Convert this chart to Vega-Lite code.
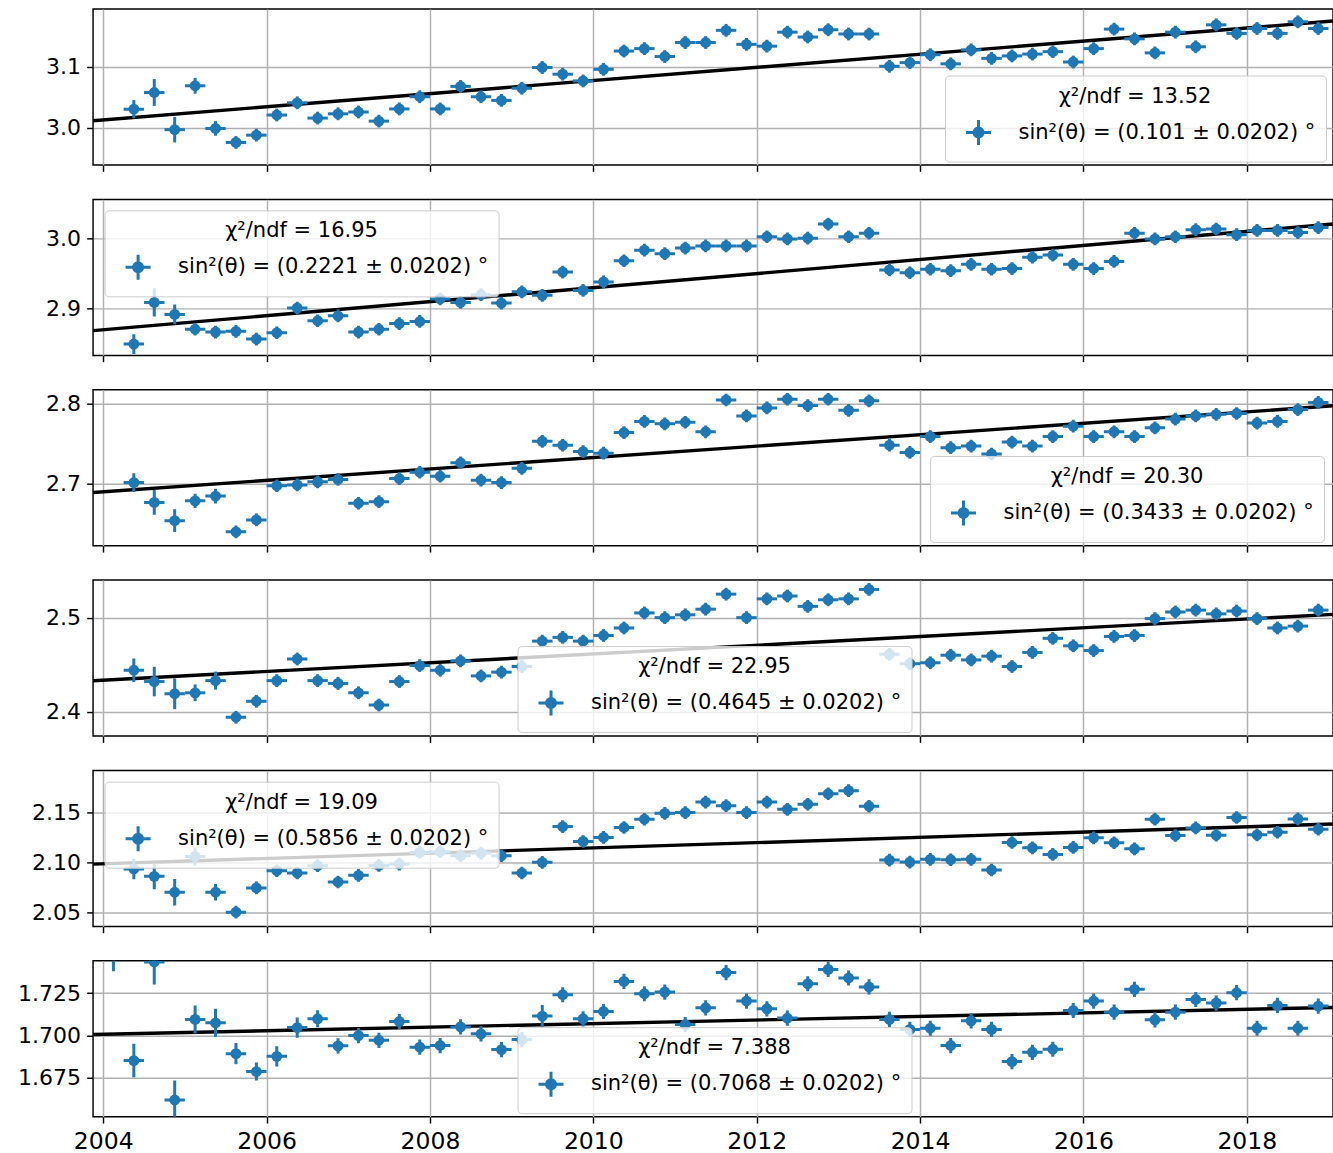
{
"$schema": "https://vega.github.io/schema/vega-lite/v6.json",
"background": "white",
"padding": {"left": 16, "top": 8, "right": 0, "bottom": 4},
"spacing": 34.35,
"bounds": "flush",
"resolve": {"scale": {"color": "independent", "y": "independent", "x": "independent"}, "legend": {"color": "independent"}},
"datasets": {
"fit": [
{"p":1,"x":2003.875,"y":3.0116},{"p":1,"x":2019.055,"y":3.1752},
{"p":2,"x":2003.875,"y":2.8690},{"p":2,"x":2019.055,"y":3.0201},
{"p":3,"x":2003.875,"y":2.6885},{"p":3,"x":2019.055,"y":2.7977},
{"p":4,"x":2003.875,"y":2.4328},{"p":4,"x":2019.055,"y":2.5035},
{"p":5,"x":2003.875,"y":2.0983},{"p":5,"x":2019.055,"y":2.1382},
{"p":6,"x":2003.875,"y":1.7006},{"p":6,"x":2019.055,"y":1.7166}
],
"pts": [
{"p":1,"x":2004.375,"y":3.0306,"e":0.015},{"p":1,"x":2004.625,"y":3.058,"e":0.022},{"p":1,"x":2004.875,"y":2.997,"e":0.021},{"p":1,"x":2005.125,"y":3.069,"e":0.013},{"p":1,"x":2005.375,"y":2.999,"e":0.012},{"p":1,"x":2005.625,"y":2.976,"e":0.0105},{"p":1,"x":2005.875,"y":2.988,"e":0.0105},{"p":1,"x":2006.125,"y":3.021,"e":0.0105},{"p":1,"x":2006.375,"y":3.041,"e":0.0105},{"p":1,"x":2006.625,"y":3.016,"e":0.0105},
{"p":1,"x":2006.875,"y":3.023,"e":0.0105},{"p":1,"x":2007.125,"y":3.026,"e":0.0105},{"p":1,"x":2007.375,"y":3.011,"e":0.0105},{"p":1,"x":2007.625,"y":3.031,"e":0.0105},{"p":1,"x":2007.875,"y":3.051,"e":0.0105},{"p":1,"x":2008.125,"y":3.031,"e":0.0105},{"p":1,"x":2008.375,"y":3.068,"e":0.0105},{"p":1,"x":2008.625,"y":3.051,"e":0.0105},{"p":1,"x":2008.875,"y":3.045,"e":0.0105},{"p":1,"x":2009.125,"y":3.065,"e":0.0105},
{"p":1,"x":2009.375,"y":3.099,"e":0.0105},{"p":1,"x":2009.625,"y":3.088,"e":0.0105},{"p":1,"x":2009.875,"y":3.077,"e":0.0105},{"p":1,"x":2010.125,"y":3.096,"e":0.0105},{"p":1,"x":2010.375,"y":3.126,"e":0.0105},{"p":1,"x":2010.625,"y":3.130,"e":0.0105},{"p":1,"x":2010.875,"y":3.117,"e":0.0105},{"p":1,"x":2011.125,"y":3.140,"e":0.0105},{"p":1,"x":2011.375,"y":3.140,"e":0.0105},{"p":1,"x":2011.625,"y":3.160,"e":0.0105},
{"p":1,"x":2011.875,"y":3.137,"e":0.0105},{"p":1,"x":2012.125,"y":3.134,"e":0.0105},{"p":1,"x":2012.375,"y":3.157,"e":0.0105},{"p":1,"x":2012.625,"y":3.149,"e":0.0105},{"p":1,"x":2012.875,"y":3.161,"e":0.0105},{"p":1,"x":2013.125,"y":3.154,"e":0.0105},{"p":1,"x":2013.375,"y":3.154,"e":0.0105},{"p":1,"x":2013.625,"y":3.101,"e":0.0105},{"p":1,"x":2013.875,"y":3.107,"e":0.0105},{"p":1,"x":2014.125,"y":3.120,"e":0.0105},
{"p":1,"x":2014.375,"y":3.105,"e":0.0105},{"p":1,"x":2014.625,"y":3.128,"e":0.0105},{"p":1,"x":2014.875,"y":3.114,"e":0.0105},{"p":1,"x":2015.125,"y":3.118,"e":0.0105},{"p":1,"x":2015.375,"y":3.121,"e":0.0105},{"p":1,"x":2015.625,"y":3.125,"e":0.0105},{"p":1,"x":2015.875,"y":3.108,"e":0.0105},{"p":1,"x":2016.125,"y":3.130,"e":0.0105},{"p":1,"x":2016.375,"y":3.162,"e":0.0105},{"p":1,"x":2016.625,"y":3.146,"e":0.0105},
{"p":1,"x":2016.875,"y":3.123,"e":0.0105},{"p":1,"x":2017.125,"y":3.157,"e":0.0105},{"p":1,"x":2017.375,"y":3.133,"e":0.0105},{"p":1,"x":2017.625,"y":3.169,"e":0.0105},{"p":1,"x":2017.875,"y":3.155,"e":0.0105},{"p":1,"x":2018.125,"y":3.163,"e":0.0105},{"p":1,"x":2018.375,"y":3.155,"e":0.0105},{"p":1,"x":2018.625,"y":3.174,"e":0.0105},{"p":1,"x":2018.875,"y":3.163,"e":0.0105},

{"p":2,"x":2004.375,"y":2.850,"e":0.014},{"p":2,"x":2004.625,"y":2.909,"e":0.020},{"p":2,"x":2004.875,"y":2.892,"e":0.014},{"p":2,"x":2005.125,"y":2.871,"e":0.009},{"p":2,"x":2005.375,"y":2.867,"e":0.009},{"p":2,"x":2005.625,"y":2.868,"e":0.009},{"p":2,"x":2005.875,"y":2.857,"e":0.009},{"p":2,"x":2006.125,"y":2.866,"e":0.009},{"p":2,"x":2006.375,"y":2.901,"e":0.009},{"p":2,"x":2006.625,"y":2.883,"e":0.009},
{"p":2,"x":2006.875,"y":2.890,"e":0.009},{"p":2,"x":2007.125,"y":2.867,"e":0.009},{"p":2,"x":2007.375,"y":2.871,"e":0.009},{"p":2,"x":2007.625,"y":2.879,"e":0.009},{"p":2,"x":2007.875,"y":2.882,"e":0.009},{"p":2,"x":2008.125,"y":2.914,"e":0.009},{"p":2,"x":2008.375,"y":2.909,"e":0.009},{"p":2,"x":2008.625,"y":2.920,"e":0.009},{"p":2,"x":2008.875,"y":2.908,"e":0.009},{"p":2,"x":2009.125,"y":2.924,"e":0.009},
{"p":2,"x":2009.375,"y":2.919,"e":0.009},{"p":2,"x":2009.625,"y":2.952,"e":0.009},{"p":2,"x":2009.875,"y":2.926,"e":0.009},{"p":2,"x":2010.125,"y":2.938,"e":0.009},{"p":2,"x":2010.375,"y":2.968,"e":0.009},{"p":2,"x":2010.625,"y":2.983,"e":0.009},{"p":2,"x":2010.875,"y":2.978,"e":0.009},{"p":2,"x":2011.125,"y":2.986,"e":0.009},{"p":2,"x":2011.375,"y":2.989,"e":0.009},{"p":2,"x":2011.625,"y":2.989,"e":0.009},
{"p":2,"x":2011.875,"y":2.989,"e":0.009},{"p":2,"x":2012.125,"y":3.002,"e":0.009},{"p":2,"x":2012.375,"y":2.999,"e":0.009},{"p":2,"x":2012.625,"y":3.000,"e":0.009},{"p":2,"x":2012.875,"y":3.020,"e":0.009},{"p":2,"x":2013.125,"y":3.002,"e":0.009},{"p":2,"x":2013.375,"y":3.007,"e":0.009},{"p":2,"x":2013.625,"y":2.955,"e":0.009},{"p":2,"x":2013.875,"y":2.951,"e":0.009},{"p":2,"x":2014.125,"y":2.956,"e":0.009},
{"p":2,"x":2014.375,"y":2.954,"e":0.009},{"p":2,"x":2014.625,"y":2.963,"e":0.009},{"p":2,"x":2014.875,"y":2.956,"e":0.009},{"p":2,"x":2015.125,"y":2.957,"e":0.009},{"p":2,"x":2015.375,"y":2.973,"e":0.009},{"p":2,"x":2015.625,"y":2.976,"e":0.009},{"p":2,"x":2015.875,"y":2.963,"e":0.009},{"p":2,"x":2016.125,"y":2.957,"e":0.009},{"p":2,"x":2016.375,"y":2.967,"e":0.009},{"p":2,"x":2016.625,"y":3.007,"e":0.009},
{"p":2,"x":2016.875,"y":2.999,"e":0.009},{"p":2,"x":2017.125,"y":3.002,"e":0.009},{"p":2,"x":2017.375,"y":3.012,"e":0.009},{"p":2,"x":2017.625,"y":3.013,"e":0.009},{"p":2,"x":2017.875,"y":3.005,"e":0.009},{"p":2,"x":2018.125,"y":3.011,"e":0.009},{"p":2,"x":2018.375,"y":3.011,"e":0.009},{"p":2,"x":2018.625,"y":3.008,"e":0.009},{"p":2,"x":2018.875,"y":3.015,"e":0.009},

{"p":3,"x":2004.375,"y":2.701,"e":0.0118},{"p":3,"x":2004.625,"y":2.676,"e":0.0156},{"p":3,"x":2004.875,"y":2.653,"e":0.0143},{"p":3,"x":2005.125,"y":2.678,"e":0.0089},{"p":3,"x":2005.375,"y":2.684,"e":0.0093},{"p":3,"x":2005.625,"y":2.639,"e":0.008},{"p":3,"x":2005.875,"y":2.654,"e":0.008},{"p":3,"x":2006.125,"y":2.697,"e":0.008},{"p":3,"x":2006.375,"y":2.698,"e":0.008},{"p":3,"x":2006.625,"y":2.702,"e":0.008},
{"p":3,"x":2006.875,"y":2.705,"e":0.008},{"p":3,"x":2007.125,"y":2.675,"e":0.008},{"p":3,"x":2007.375,"y":2.677,"e":0.008},{"p":3,"x":2007.625,"y":2.706,"e":0.008},{"p":3,"x":2007.875,"y":2.714,"e":0.008},{"p":3,"x":2008.125,"y":2.709,"e":0.008},{"p":3,"x":2008.375,"y":2.726,"e":0.008},{"p":3,"x":2008.625,"y":2.704,"e":0.008},{"p":3,"x":2008.875,"y":2.701,"e":0.008},{"p":3,"x":2009.125,"y":2.719,"e":0.008},
{"p":3,"x":2009.375,"y":2.753,"e":0.008},{"p":3,"x":2009.625,"y":2.748,"e":0.008},{"p":3,"x":2009.875,"y":2.740,"e":0.008},{"p":3,"x":2010.125,"y":2.738,"e":0.008},{"p":3,"x":2010.375,"y":2.764,"e":0.008},{"p":3,"x":2010.625,"y":2.778,"e":0.008},{"p":3,"x":2010.875,"y":2.775,"e":0.008},{"p":3,"x":2011.125,"y":2.777,"e":0.008},{"p":3,"x":2011.375,"y":2.765,"e":0.008},{"p":3,"x":2011.625,"y":2.805,"e":0.008},
{"p":3,"x":2011.875,"y":2.785,"e":0.008},{"p":3,"x":2012.125,"y":2.795,"e":0.008},{"p":3,"x":2012.375,"y":2.806,"e":0.008},{"p":3,"x":2012.625,"y":2.798,"e":0.008},{"p":3,"x":2012.875,"y":2.806,"e":0.008},{"p":3,"x":2013.125,"y":2.792,"e":0.008},{"p":3,"x":2013.375,"y":2.804,"e":0.008},{"p":3,"x":2013.625,"y":2.748,"e":0.008},{"p":3,"x":2013.875,"y":2.739,"e":0.008},{"p":3,"x":2014.125,"y":2.759,"e":0.008},
{"p":3,"x":2014.375,"y":2.745,"e":0.008},{"p":3,"x":2014.625,"y":2.747,"e":0.008},{"p":3,"x":2014.875,"y":2.737,"e":0.008},{"p":3,"x":2015.125,"y":2.752,"e":0.008},{"p":3,"x":2015.375,"y":2.747,"e":0.008},{"p":3,"x":2015.625,"y":2.759,"e":0.008},{"p":3,"x":2015.875,"y":2.772,"e":0.008},{"p":3,"x":2016.125,"y":2.759,"e":0.008},{"p":3,"x":2016.375,"y":2.765,"e":0.008},{"p":3,"x":2016.625,"y":2.759,"e":0.008},
{"p":3,"x":2016.875,"y":2.770,"e":0.008},{"p":3,"x":2017.125,"y":2.781,"e":0.008},{"p":3,"x":2017.375,"y":2.785,"e":0.008},{"p":3,"x":2017.625,"y":2.787,"e":0.008},{"p":3,"x":2017.875,"y":2.788,"e":0.008},{"p":3,"x":2018.125,"y":2.776,"e":0.008},{"p":3,"x":2018.375,"y":2.778,"e":0.008},{"p":3,"x":2018.625,"y":2.793,"e":0.008},{"p":3,"x":2018.875,"y":2.802,"e":0.008},

{"p":4,"x":2004.375,"y":2.444,"e":0.0125},{"p":4,"x":2004.625,"y":2.432,"e":0.0157},{"p":4,"x":2004.875,"y":2.419,"e":0.0164},{"p":4,"x":2005.125,"y":2.420,"e":0.0089},{"p":4,"x":2005.375,"y":2.433,"e":0.0096},{"p":4,"x":2005.625,"y":2.394,"e":0.0068},{"p":4,"x":2005.875,"y":2.411,"e":0.0068},{"p":4,"x":2006.125,"y":2.433,"e":0.0068},{"p":4,"x":2006.375,"y":2.456,"e":0.0068},{"p":4,"x":2006.625,"y":2.433,"e":0.0068},
{"p":4,"x":2006.875,"y":2.430,"e":0.0068},{"p":4,"x":2007.125,"y":2.420,"e":0.0068},{"p":4,"x":2007.375,"y":2.407,"e":0.0068},{"p":4,"x":2007.625,"y":2.432,"e":0.0068},{"p":4,"x":2007.875,"y":2.449,"e":0.0068},{"p":4,"x":2008.125,"y":2.444,"e":0.0068},{"p":4,"x":2008.375,"y":2.454,"e":0.0068},{"p":4,"x":2008.625,"y":2.438,"e":0.0068},{"p":4,"x":2008.875,"y":2.442,"e":0.0068},{"p":4,"x":2009.125,"y":2.448,"e":0.0068},
{"p":4,"x":2009.375,"y":2.475,"e":0.0068},{"p":4,"x":2009.625,"y":2.479,"e":0.0068},{"p":4,"x":2009.875,"y":2.475,"e":0.0068},{"p":4,"x":2010.125,"y":2.481,"e":0.0068},{"p":4,"x":2010.375,"y":2.489,"e":0.0068},{"p":4,"x":2010.625,"y":2.505,"e":0.0068},{"p":4,"x":2010.875,"y":2.500,"e":0.0068},{"p":4,"x":2011.125,"y":2.503,"e":0.0068},{"p":4,"x":2011.375,"y":2.509,"e":0.0068},{"p":4,"x":2011.625,"y":2.525,"e":0.0068},
{"p":4,"x":2011.875,"y":2.500,"e":0.0068},{"p":4,"x":2012.125,"y":2.520,"e":0.0068},{"p":4,"x":2012.375,"y":2.523,"e":0.0068},{"p":4,"x":2012.625,"y":2.512,"e":0.0068},{"p":4,"x":2012.875,"y":2.519,"e":0.0068},{"p":4,"x":2013.125,"y":2.520,"e":0.0068},{"p":4,"x":2013.375,"y":2.530,"e":0.0068},{"p":4,"x":2013.625,"y":2.461,"e":0.0068},{"p":4,"x":2013.875,"y":2.451,"e":0.0068},{"p":4,"x":2014.125,"y":2.452,"e":0.0068},
{"p":4,"x":2014.375,"y":2.460,"e":0.0068},{"p":4,"x":2014.625,"y":2.455,"e":0.0068},{"p":4,"x":2014.875,"y":2.459,"e":0.0068},{"p":4,"x":2015.125,"y":2.448,"e":0.0068},{"p":4,"x":2015.375,"y":2.463,"e":0.0068},{"p":4,"x":2015.625,"y":2.478,"e":0.0068},{"p":4,"x":2015.875,"y":2.470,"e":0.0068},{"p":4,"x":2016.125,"y":2.465,"e":0.0068},{"p":4,"x":2016.375,"y":2.480,"e":0.0068},{"p":4,"x":2016.625,"y":2.481,"e":0.0068},
{"p":4,"x":2016.875,"y":2.499,"e":0.0068},{"p":4,"x":2017.125,"y":2.506,"e":0.0068},{"p":4,"x":2017.375,"y":2.508,"e":0.0068},{"p":4,"x":2017.625,"y":2.504,"e":0.0068},{"p":4,"x":2017.875,"y":2.507,"e":0.0068},{"p":4,"x":2018.125,"y":2.499,"e":0.0068},{"p":4,"x":2018.375,"y":2.489,"e":0.0068},{"p":4,"x":2018.625,"y":2.491,"e":0.0068},{"p":4,"x":2018.875,"y":2.508,"e":0.0068},

{"p":5,"x":2004.375,"y":2.0934,"e":0.0102},{"p":5,"x":2004.625,"y":2.0861,"e":0.0129},{"p":5,"x":2004.875,"y":2.0703,"e":0.0132},{"p":5,"x":2005.125,"y":2.1059,"e":0.009},{"p":5,"x":2005.375,"y":2.0703,"e":0.0083},{"p":5,"x":2005.625,"y":2.0505,"e":0.0063},{"p":5,"x":2005.875,"y":2.0746,"e":0.0063},{"p":5,"x":2006.125,"y":2.0917,"e":0.0063},{"p":5,"x":2006.375,"y":2.0894,"e":0.0063},{"p":5,"x":2006.625,"y":2.0967,"e":0.0063},
{"p":5,"x":2006.875,"y":2.0805,"e":0.0063},{"p":5,"x":2007.125,"y":2.0871,"e":0.0063},{"p":5,"x":2007.375,"y":2.0970,"e":0.0063},{"p":5,"x":2007.625,"y":2.0983,"e":0.0063},{"p":5,"x":2007.875,"y":2.1099,"e":0.0063},{"p":5,"x":2008.125,"y":2.1106,"e":0.0063},{"p":5,"x":2008.375,"y":2.1066,"e":0.0063},{"p":5,"x":2008.625,"y":2.1092,"e":0.0063},{"p":5,"x":2008.875,"y":2.1066,"e":0.0063},{"p":5,"x":2009.125,"y":2.0894,"e":0.0063},
{"p":5,"x":2009.375,"y":2.1000,"e":0.0063},{"p":5,"x":2009.625,"y":2.1356,"e":0.0063},{"p":5,"x":2009.875,"y":2.1208,"e":0.0063},{"p":5,"x":2010.125,"y":2.1248,"e":0.0063},{"p":5,"x":2010.375,"y":2.1347,"e":0.0063},{"p":5,"x":2010.625,"y":2.1429,"e":0.0063},{"p":5,"x":2010.875,"y":2.1488,"e":0.0063},{"p":5,"x":2011.125,"y":2.1495,"e":0.0063},{"p":5,"x":2011.375,"y":2.1600,"e":0.0063},{"p":5,"x":2011.625,"y":2.1564,"e":0.0063},
{"p":5,"x":2011.875,"y":2.1495,"e":0.0063},{"p":5,"x":2012.125,"y":2.1600,"e":0.0063},{"p":5,"x":2012.375,"y":2.1528,"e":0.0063},{"p":5,"x":2012.625,"y":2.1578,"e":0.0063},{"p":5,"x":2012.875,"y":2.1683,"e":0.0063},{"p":5,"x":2013.125,"y":2.1713,"e":0.0063},{"p":5,"x":2013.375,"y":2.1558,"e":0.0063},{"p":5,"x":2013.625,"y":2.1023,"e":0.0063},{"p":5,"x":2013.875,"y":2.1003,"e":0.0063},{"p":5,"x":2014.125,"y":2.1030,"e":0.0063},
{"p":5,"x":2014.375,"y":2.1026,"e":0.0063},{"p":5,"x":2014.625,"y":2.1030,"e":0.0063},{"p":5,"x":2014.875,"y":2.0924,"e":0.0063},{"p":5,"x":2015.125,"y":2.1198,"e":0.0063},{"p":5,"x":2015.375,"y":2.1145,"e":0.0063},{"p":5,"x":2015.625,"y":2.1079,"e":0.0063},{"p":5,"x":2015.875,"y":2.1149,"e":0.0063},{"p":5,"x":2016.125,"y":2.1244,"e":0.0063},{"p":5,"x":2016.375,"y":2.1195,"e":0.0063},{"p":5,"x":2016.625,"y":2.1135,"e":0.0063},
{"p":5,"x":2016.875,"y":2.1429,"e":0.0063},{"p":5,"x":2017.125,"y":2.1267,"e":0.0063},{"p":5,"x":2017.375,"y":2.1343,"e":0.0063},{"p":5,"x":2017.625,"y":2.1271,"e":0.0063},{"p":5,"x":2017.875,"y":2.1446,"e":0.0063},{"p":5,"x":2018.125,"y":2.1274,"e":0.0063},{"p":5,"x":2018.375,"y":2.1300,"e":0.0063},{"p":5,"x":2018.625,"y":2.1432,"e":0.0063},{"p":5,"x":2018.875,"y":2.1330,"e":0.0063},

{"p":6,"x":2004.125,"y":1.762,"e":0.024},
{"p":6,"x":2004.375,"y":1.6852,"e":0.0099},{"p":6,"x":2004.625,"y":1.7435,"e":0.0134},{"p":6,"x":2004.875,"y":1.6619,"e":0.0115},{"p":6,"x":2005.125,"y":1.7095,"e":0.0083},{"p":6,"x":2005.375,"y":1.7075,"e":0.0083},{"p":6,"x":2005.625,"y":1.6893,"e":0.0063},{"p":6,"x":2005.875,"y":1.6787,"e":0.0053},{"p":6,"x":2006.125,"y":1.6877,"e":0.006},{"p":6,"x":2006.375,"y":1.7047,"e":0.006},{"p":6,"x":2006.625,"y":1.7099,"e":0.005},
{"p":6,"x":2006.875,"y":1.6939,"e":0.0045},{"p":6,"x":2007.125,"y":1.7000,"e":0.0045},{"p":6,"x":2007.375,"y":1.6972,"e":0.0045},{"p":6,"x":2007.625,"y":1.7083,"e":0.0045},{"p":6,"x":2007.875,"y":1.6931,"e":0.0045},{"p":6,"x":2008.125,"y":1.6941,"e":0.0045},{"p":6,"x":2008.375,"y":1.7051,"e":0.0045},{"p":6,"x":2008.625,"y":1.7010,"e":0.0045},{"p":6,"x":2008.875,"y":1.6917,"e":0.0045},{"p":6,"x":2009.125,"y":1.6976,"e":0.0045},
{"p":6,"x":2009.375,"y":1.7115,"e":0.0065},{"p":6,"x":2009.625,"y":1.7241,"e":0.0045},{"p":6,"x":2009.875,"y":1.7099,"e":0.0045},{"p":6,"x":2010.125,"y":1.7142,"e":0.0045},{"p":6,"x":2010.375,"y":1.7320,"e":0.0045},{"p":6,"x":2010.625,"y":1.7247,"e":0.0045},{"p":6,"x":2010.875,"y":1.7257,"e":0.0045},{"p":6,"x":2011.125,"y":1.7065,"e":0.0045},{"p":6,"x":2011.375,"y":1.7164,"e":0.0045},{"p":6,"x":2011.625,"y":1.7372,"e":0.0045},
{"p":6,"x":2011.875,"y":1.7204,"e":0.0045},{"p":6,"x":2012.125,"y":1.7158,"e":0.0045},{"p":6,"x":2012.375,"y":1.7103,"e":0.0045},{"p":6,"x":2012.625,"y":1.7306,"e":0.0045},{"p":6,"x":2012.875,"y":1.7391,"e":0.0045},{"p":6,"x":2013.125,"y":1.7340,"e":0.0045},{"p":6,"x":2013.375,"y":1.7287,"e":0.0045},{"p":6,"x":2013.625,"y":1.7095,"e":0.0045},{"p":6,"x":2013.875,"y":1.7036,"e":0.0045},{"p":6,"x":2014.125,"y":1.7043,"e":0.0045},
{"p":6,"x":2014.375,"y":1.6941,"e":0.0045},{"p":6,"x":2014.625,"y":1.7087,"e":0.0045},{"p":6,"x":2014.875,"y":1.7036,"e":0.0045},{"p":6,"x":2015.125,"y":1.6846,"e":0.0045},{"p":6,"x":2015.375,"y":1.6901,"e":0.0045},{"p":6,"x":2015.625,"y":1.6919,"e":0.0045},{"p":6,"x":2015.875,"y":1.7148,"e":0.0045},{"p":6,"x":2016.125,"y":1.7204,"e":0.0045},{"p":6,"x":2016.375,"y":1.7138,"e":0.0045},{"p":6,"x":2016.625,"y":1.7273,"e":0.0045},
{"p":6,"x":2016.875,"y":1.7093,"e":0.0045},{"p":6,"x":2017.125,"y":1.7138,"e":0.0045},{"p":6,"x":2017.375,"y":1.7213,"e":0.0045},{"p":6,"x":2017.625,"y":1.7192,"e":0.0045},{"p":6,"x":2017.875,"y":1.7253,"e":0.0045},{"p":6,"x":2018.125,"y":1.7043,"e":0.0045},{"p":6,"x":2018.375,"y":1.7178,"e":0.0045},{"p":6,"x":2018.625,"y":1.7043,"e":0.0045},{"p":6,"x":2018.875,"y":1.7174,"e":0.0045}
]
},
"vconcat": [
{
"width": 1240, "height": 156,
"encoding": {
"x": {"field": "x", "type": "quantitative", "title": null, "scale": {"domain": [2003.875, 2019.055], "nice": false, "zero": false}, "axis": {"values": [2004,2006,2008,2010,2012,2014,2016,2018], "format": "d", "labels": false}},
"y": {"field": "y", "type": "quantitative", "title": null, "scale": {"domain": [2.939, 3.195], "nice": false, "zero": false}, "axis": {"values": [3.0, 3.1], "format": ".1f"}}
},
"layer": [
{"data": {"name": "fit"}, "transform": [{"filter": "datum.p == 1"}], "mark": {"type": "line", "color": "black", "strokeWidth": 3.4, "clip": true}, "encoding": {}},
{"data": {"name": "pts"}, "transform": [{"filter": "datum.p == 1"}], "layer": [
{"mark": {"type": "errorbar", "ticks": false, "clip": true, "color": "#1f77b4", "thickness": 3}, "encoding": {"yError": {"field": "e"}}},
{"mark": {"type": "tick", "orient": "horizontal", "size": 20.4, "thickness": 3, "color": "#1f77b4", "opacity": 1, "clip": true}, "encoding": {}},
{"mark": {"type": "point", "shape": "circle", "filled": true, "size": 118, "opacity": 1, "clip": true}, "encoding": {"color": {"datum": "sin²(θ) = (0.101 ± 0.0202) °", "type": "nominal", "scale": {"range": ["#1f77b4"]}, "legend": {"title": "χ²/ndf = 13.52", "orient": "none", "legendX": 852, "legendY": 66.5}}}}
]}
]
},
{
"width": 1240, "height": 156,
"encoding": {
"x": {"field": "x", "type": "quantitative", "title": null, "scale": {"domain": [2003.875, 2019.055], "nice": false, "zero": false}, "axis": {"values": [2004,2006,2008,2010,2012,2014,2016,2018], "format": "d", "labels": false}},
"y": {"field": "y", "type": "quantitative", "title": null, "scale": {"domain": [2.834, 3.055], "nice": false, "zero": false}, "axis": {"values": [2.9, 3.0], "format": ".1f"}}
},
"layer": [
{"data": {"name": "fit"}, "transform": [{"filter": "datum.p == 2"}], "mark": {"type": "line", "color": "black", "strokeWidth": 3.4, "clip": true}, "encoding": {}},
{"data": {"name": "pts"}, "transform": [{"filter": "datum.p == 2"}], "layer": [
{"mark": {"type": "errorbar", "ticks": false, "clip": true, "color": "#1f77b4", "thickness": 3}, "encoding": {"yError": {"field": "e"}}},
{"mark": {"type": "tick", "orient": "horizontal", "size": 20.4, "thickness": 3, "color": "#1f77b4", "opacity": 1, "clip": true}, "encoding": {}},
{"mark": {"type": "point", "shape": "circle", "filled": true, "size": 118, "opacity": 1, "clip": true}, "encoding": {"color": {"datum": "sin²(θ) = (0.2221 ± 0.0202) °", "type": "nominal", "scale": {"range": ["#1f77b4"]}, "legend": {"title": "χ²/ndf = 16.95", "orient": "none", "legendX": 11.6, "legendY": 11}}}}
]}
]
},
{
"width": 1240, "height": 156,
"encoding": {
"x": {"field": "x", "type": "quantitative", "title": null, "scale": {"domain": [2003.875, 2019.055], "nice": false, "zero": false}, "axis": {"values": [2004,2006,2008,2010,2012,2014,2016,2018], "format": "d", "labels": false}},
"y": {"field": "y", "type": "quantitative", "title": null, "scale": {"domain": [2.6215, 2.818], "nice": false, "zero": false}, "axis": {"values": [2.7, 2.8], "format": ".1f"}}
},
"layer": [
{"data": {"name": "fit"}, "transform": [{"filter": "datum.p == 3"}], "mark": {"type": "line", "color": "black", "strokeWidth": 3.4, "clip": true}, "encoding": {}},
{"data": {"name": "pts"}, "transform": [{"filter": "datum.p == 3"}], "layer": [
{"mark": {"type": "errorbar", "ticks": false, "clip": true, "color": "#1f77b4", "thickness": 3}, "encoding": {"yError": {"field": "e"}}},
{"mark": {"type": "tick", "orient": "horizontal", "size": 20.4, "thickness": 3, "color": "#1f77b4", "opacity": 1, "clip": true}, "encoding": {}},
{"mark": {"type": "point", "shape": "circle", "filled": true, "size": 118, "opacity": 1, "clip": true}, "encoding": {"color": {"datum": "sin²(θ) = (0.3433 ± 0.0202) °", "type": "nominal", "scale": {"range": ["#1f77b4"]}, "legend": {"title": "χ²/ndf = 20.30", "orient": "none", "legendX": 837, "legendY": 66.3}}}}
]}
]
},
{
"width": 1240, "height": 156,
"encoding": {
"x": {"field": "x", "type": "quantitative", "title": null, "scale": {"domain": [2003.875, 2019.055], "nice": false, "zero": false}, "axis": {"values": [2004,2006,2008,2010,2012,2014,2016,2018], "format": "d", "labels": false}},
"y": {"field": "y", "type": "quantitative", "title": null, "scale": {"domain": [2.374, 2.540], "nice": false, "zero": false}, "axis": {"values": [2.4, 2.5], "format": ".1f"}}
},
"layer": [
{"data": {"name": "fit"}, "transform": [{"filter": "datum.p == 4"}], "mark": {"type": "line", "color": "black", "strokeWidth": 3.4, "clip": true}, "encoding": {}},
{"data": {"name": "pts"}, "transform": [{"filter": "datum.p == 4"}], "layer": [
{"mark": {"type": "errorbar", "ticks": false, "clip": true, "color": "#1f77b4", "thickness": 3}, "encoding": {"yError": {"field": "e"}}},
{"mark": {"type": "tick", "orient": "horizontal", "size": 20.4, "thickness": 3, "color": "#1f77b4", "opacity": 1, "clip": true}, "encoding": {}},
{"mark": {"type": "point", "shape": "circle", "filled": true, "size": 118, "opacity": 1, "clip": true}, "encoding": {"color": {"datum": "sin²(θ) = (0.4645 ± 0.0202) °", "type": "nominal", "scale": {"range": ["#1f77b4"]}, "legend": {"title": "χ²/ndf = 22.95", "orient": "none", "legendX": 424.5, "legendY": 66}}}}
]}
]
},
{
"width": 1240, "height": 156,
"encoding": {
"x": {"field": "x", "type": "quantitative", "title": null, "scale": {"domain": [2003.875, 2019.055], "nice": false, "zero": false}, "axis": {"values": [2004,2006,2008,2010,2012,2014,2016,2018], "format": "d", "labels": false}},
"y": {"field": "y", "type": "quantitative", "title": null, "scale": {"domain": [2.0363, 2.1915], "nice": false, "zero": false}, "axis": {"values": [2.05, 2.10, 2.15], "format": ".2f"}}
},
"layer": [
{"data": {"name": "fit"}, "transform": [{"filter": "datum.p == 5"}], "mark": {"type": "line", "color": "black", "strokeWidth": 3.4, "clip": true}, "encoding": {}},
{"data": {"name": "pts"}, "transform": [{"filter": "datum.p == 5"}], "layer": [
{"mark": {"type": "errorbar", "ticks": false, "clip": true, "color": "#1f77b4", "thickness": 3}, "encoding": {"yError": {"field": "e"}}},
{"mark": {"type": "tick", "orient": "horizontal", "size": 20.4, "thickness": 3, "color": "#1f77b4", "opacity": 1, "clip": true}, "encoding": {}},
{"mark": {"type": "point", "shape": "circle", "filled": true, "size": 118, "opacity": 1, "clip": true}, "encoding": {"color": {"datum": "sin²(θ) = (0.5856 ± 0.0202) °", "type": "nominal", "scale": {"range": ["#1f77b4"]}, "legend": {"title": "χ²/ndf = 19.09", "orient": "none", "legendX": 11.6, "legendY": 11.3}}}}
]}
]
},
{
"width": 1240, "height": 156,
"encoding": {
"x": {"field": "x", "type": "quantitative", "title": null, "scale": {"domain": [2003.875, 2019.055], "nice": false, "zero": false}, "axis": {"values": [2004,2006,2008,2010,2012,2014,2016,2018], "format": "d", "labels": true}},
"y": {"field": "y", "type": "quantitative", "title": null, "scale": {"domain": [1.652, 1.7442], "nice": false, "zero": false}, "axis": {"values": [1.675, 1.700, 1.725], "format": ".3f"}}
},
"layer": [
{"data": {"name": "fit"}, "transform": [{"filter": "datum.p == 6"}], "mark": {"type": "line", "color": "black", "strokeWidth": 3.4, "clip": true}, "encoding": {}},
{"data": {"name": "pts"}, "transform": [{"filter": "datum.p == 6"}], "layer": [
{"mark": {"type": "errorbar", "ticks": false, "clip": true, "color": "#1f77b4", "thickness": 3}, "encoding": {"yError": {"field": "e"}}},
{"mark": {"type": "tick", "orient": "horizontal", "size": 20.4, "thickness": 3, "color": "#1f77b4", "opacity": 1, "clip": true}, "encoding": {}},
{"mark": {"type": "point", "shape": "circle", "filled": true, "size": 118, "opacity": 1, "clip": true}, "encoding": {"color": {"datum": "sin²(θ) = (0.7068 ± 0.0202) °", "type": "nominal", "scale": {"range": ["#1f77b4"]}, "legend": {"title": "χ²/ndf = 7.388", "orient": "none", "legendX": 424.5, "legendY": 66.4}}}}
]}
]
}
],
"config": {
"font": "DejaVu Sans",
"view": {"stroke": "black", "strokeWidth": 1.45},
"axis": {"labelFont": "DejaVu Sans", "labelFontSize": 22, "labelColor": "black", "tickColor": "black", "tickSize": 6.3, "tickWidth": 1.45, "labelPadding": 6.3, "domain": false, "grid": true, "gridColor": "#b0b0b0", "gridWidth": 1.45, "labelFlush": false, "labelOverlap": false},
"axisX": {"labelFontSize": 23.5},
"legend": {
"labelFont": "DejaVu Sans", "labelFontSize": 21, "labelColor": "black", "labelLimit": 600,
"titleFont": "DejaVu Sans", "titleFontSize": 21, "titleFontWeight": "normal", "titleColor": "black", "titleLimit": 600, "titleAnchor": "middle",
"padding": 10, "titlePadding": 12, "fillColor": "rgba(255,255,255,0.8)", "strokeColor": "#cccccc", "cornerRadius": 4,
"symbolType": "M-1,0H1M0,-1V1M0.36,0A0.36,0.36,0,1,1,-0.36,0A0.36,0.36,0,1,1,0.36,0Z",
"symbolSize": 625, "symbolStrokeWidth": 3, "symbolStrokeColor": "#1f77b4", "symbolFillColor": "#1f77b4", "symbolOpacity": 1, "symbolOffset": 9.5, "labelOffset": 26
}
}
}
